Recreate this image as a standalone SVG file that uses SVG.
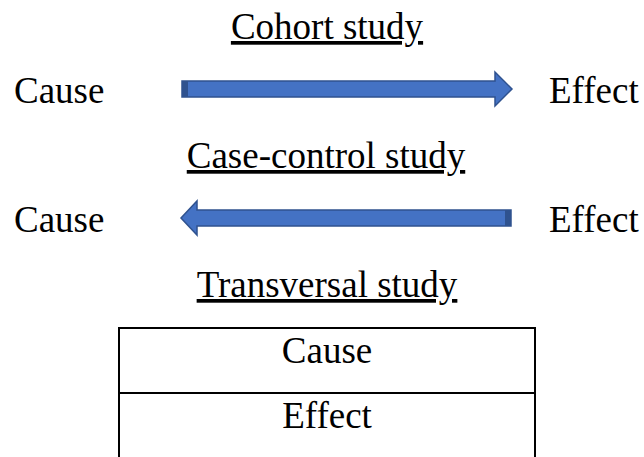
<svg xmlns="http://www.w3.org/2000/svg" width="644" height="457" viewBox="0 0 644 457">
<style>
text{font-family:"Liberation Serif","Times New Roman",serif;font-size:37px;fill:#000}
.t{text-anchor:middle;text-decoration:underline}
.c{text-anchor:middle}
.arrow{fill:#4472c4;stroke:#2f528f;stroke-width:1.5}
</style>
<rect width="644" height="457" fill="#fff"/>
<g id="title-cohort"><text class="t" x="327" y="39">Cohort study</text></g>
<g id="cause1"><text x="14" y="103">Cause</text></g>
<g id="effect1"><text x="549" y="103">Effect</text></g>
<g id="title-case"><text class="t" x="326" y="168">Case-control study</text></g>
<g id="cause2"><text x="14" y="232">Cause</text></g>
<g id="effect2"><text x="549" y="232">Effect</text></g>
<g id="title-trans"><text class="t" x="327" y="297">Transversal study</text></g>
<g id="connectors">
<path class="arrow" d="M182,81 L495,81 L495,72 L512,89 L495,106 L495,97 L182,97 Z"/>
<rect x="182" y="81" width="6" height="16" fill="#2f528f"/>
<path class="arrow" d="M511,210 L197,210 L197,201 L181,218 L197,235 L197,226 L511,226 Z"/>
<rect x="505" y="210" width="6" height="16" fill="#2f528f"/>
</g>
<g id="table">
<rect x="119" y="328" width="416" height="140" fill="none" stroke="#000" stroke-width="2"/>
<line x1="119" y1="393" x2="535" y2="393" stroke="#000" stroke-width="2"/>
<text class="c" x="327" y="363">Cause</text>
<text class="c" x="327" y="428">Effect</text>
</g>
</svg>
